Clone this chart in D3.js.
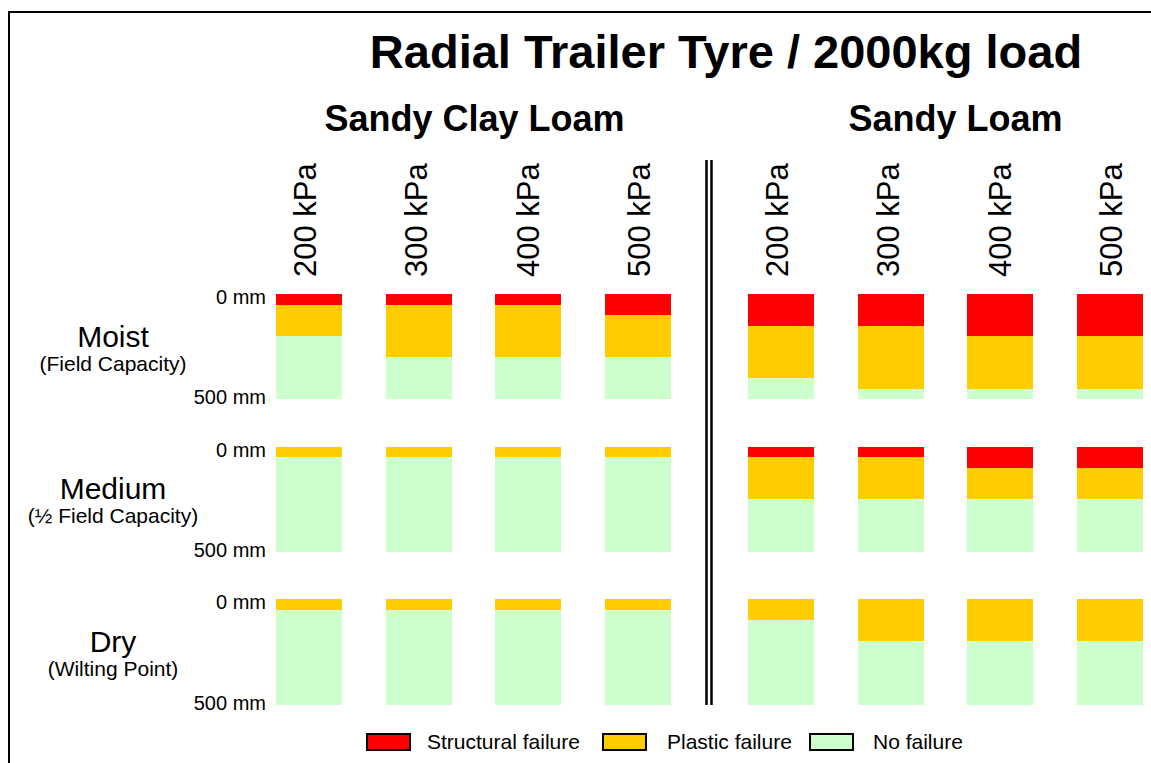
<!DOCTYPE html>
<html>
<head>
<meta charset="utf-8">
<script src="https://cdn.jsdelivr.net/npm/d3@7"></script>
<style>
  html, body { margin: 0; padding: 0; background: #fff; }
  svg { display: block; font-family: "Liberation Sans", Arial, Helvetica, sans-serif; }
</style>
</head>
<body>
<svg id="chart" width="1151" height="763"></svg>
<script>
// ---- Data (depths in mm below surface) ----
const chartTitle = "Radial Trailer Tyre / 2000kg load";
const soils = ["Sandy Clay Loam", "Sandy Loam"];
const pressures = ["200 kPa", "300 kPa", "400 kPa", "500 kPa"];
const moistures = ["Moist", "Medium", "Dry"];
const moistureNotes = ["(Field Capacity)", "(½ Field Capacity)", "(Wilting Point)"];
const depthTicks = ["0 mm", "500 mm"];
const maxDepth = 500;

// depth where structural failure ends (rows: Moist, Medium, Dry; cols: pressures)
const sandyClayLoamStructural = [[50, 50, 50, 100], [0, 0, 0, 0], [0, 0, 0, 0]];
// depth where plastic failure ends
const sandyClayLoamPlastic = [[200, 300, 300, 300], [50, 50, 50, 50], [50, 50, 50, 50]];
const sandyLoamStructural = [[150, 150, 200, 200], [50, 50, 100, 100], [0, 0, 0, 0]];
const sandyLoamPlastic = [[400, 450, 450, 450], [250, 250, 250, 250], [100, 200, 200, 200]];

const categories = ["Structural failure", "Plastic failure", "No failure"];
const colors = ["#FF0000", "#FFCC00", "#CCFFCC"];

// ---- Layout ----
const svg = d3.select("#chart");

// frame
svg.append("rect").attr("x", 9).attr("y", 12).attr("width", 1300).attr("height", 900)
  .attr("fill", "none").attr("stroke", "#000").attr("stroke-width", 2);

const groupRanges = [[276, 671], [748, 1143]];
const headerCenters = [474.5, 955.5];
const xScales = groupRanges.map(r => d3.scaleBand().domain(pressures).range(r).paddingInner(0.398).paddingOuter(0));
const labelScales = xScales.map(xs => d3.scalePoint().domain(pressures)
  .range([xs(pressures[0]) + 40, xs(pressures[pressures.length - 1]) + 45.5]));
const rowScale = d3.scaleBand().domain(moistures).range([294, 704.5]).paddingInner(0.3126).paddingOuter(0);
const yScale = m => d3.scaleLinear().domain([0, maxDepth]).range([rowScale(m), rowScale(m) + rowScale.bandwidth()]);
const colorScale = d3.scaleOrdinal().domain(categories).range(colors);

// title
svg.append("text").attr("x", 726).attr("y", 68).attr("text-anchor", "middle")
  .attr("font-size", 47).attr("font-weight", "bold").text(chartTitle);

const soilStructural = [sandyClayLoamStructural, sandyLoamStructural];
const soilPlastic = [sandyClayLoamPlastic, sandyLoamPlastic];

soils.forEach((s, si) => {
  const xs = xScales[si];
  svg.append("text").attr("x", headerCenters[si]).attr("y", 131).attr("text-anchor", "middle")
    .attr("font-size", 36).attr("font-weight", "bold").text(s);

  // rotated pressure labels
  pressures.forEach(p => {
    svg.append("text")
      .attr("transform", `translate(${labelScales[si](p)},277) rotate(-90)`)
      .attr("text-anchor", "start").attr("font-size", 31).text(p);
  });

  // stacked bars
  moistures.forEach((m, mi) => {
    const y = yScale(m);
    const segs = [];
    pressures.forEach((p, pi) => {
      const sEnd = soilStructural[si][mi][pi];
      const pEnd = soilPlastic[si][mi][pi];
      segs.push({ p, cat: categories[0], y0: 0, y1: sEnd });
      segs.push({ p, cat: categories[1], y0: sEnd, y1: pEnd });
      segs.push({ p, cat: categories[2], y0: pEnd, y1: maxDepth });
    });
    svg.append("g").selectAll("rect").data(segs.filter(d => d.y1 > d.y0)).join("rect")
      .attr("x", d => xs(d.p))
      .attr("width", xs.bandwidth())
      .attr("y", d => y(d.y0))
      .attr("height", d => y(d.y1) - y(d.y0))
      .attr("fill", d => colorScale(d.cat))
      .attr("shape-rendering", "crispEdges");
  });
});

// row labels and depth ticks
moistures.forEach((m, mi) => {
  const y = yScale(m);
  const mid = rowScale(m) + rowScale.bandwidth() / 2;
  svg.append("text").attr("x", 113).attr("y", mid).attr("text-anchor", "middle")
    .attr("font-size", 30).text(m);
  svg.append("text").attr("x", 113).attr("y", mid + 24).attr("text-anchor", "middle")
    .attr("font-size", 21).text(moistureNotes[mi]);
  svg.append("text").attr("x", 266).attr("y", y(0) + 10).attr("text-anchor", "end")
    .attr("font-size", 20).text(depthTicks[0]);
  svg.append("text").attr("x", 266).attr("y", y(maxDepth) + 5).attr("text-anchor", "end")
    .attr("font-size", 20).text(depthTicks[1]);
});

// divider (double line)
[706.5, 711.5].forEach(x => {
  svg.append("line").attr("x1", x).attr("x2", x).attr("y1", 160).attr("y2", 705)
    .attr("stroke", "#000").attr("stroke-width", 2.5);
});

// legend
const legendItems = [
  { cat: categories[0], bx: 367, tx: 427 },
  { cat: categories[1], bx: 603, tx: 667 },
  { cat: categories[2], bx: 810, tx: 873 }
];
const lg = svg.append("g");
legendItems.forEach(li => {
  lg.append("rect").attr("x", li.bx).attr("y", 734).attr("width", 43).attr("height", 16)
    .attr("fill", colorScale(li.cat)).attr("stroke", "#000").attr("stroke-width", 2);
  lg.append("text").attr("x", li.tx).attr("y", 749).attr("font-size", 21).text(li.cat);
});
</script>
</body>
</html>
